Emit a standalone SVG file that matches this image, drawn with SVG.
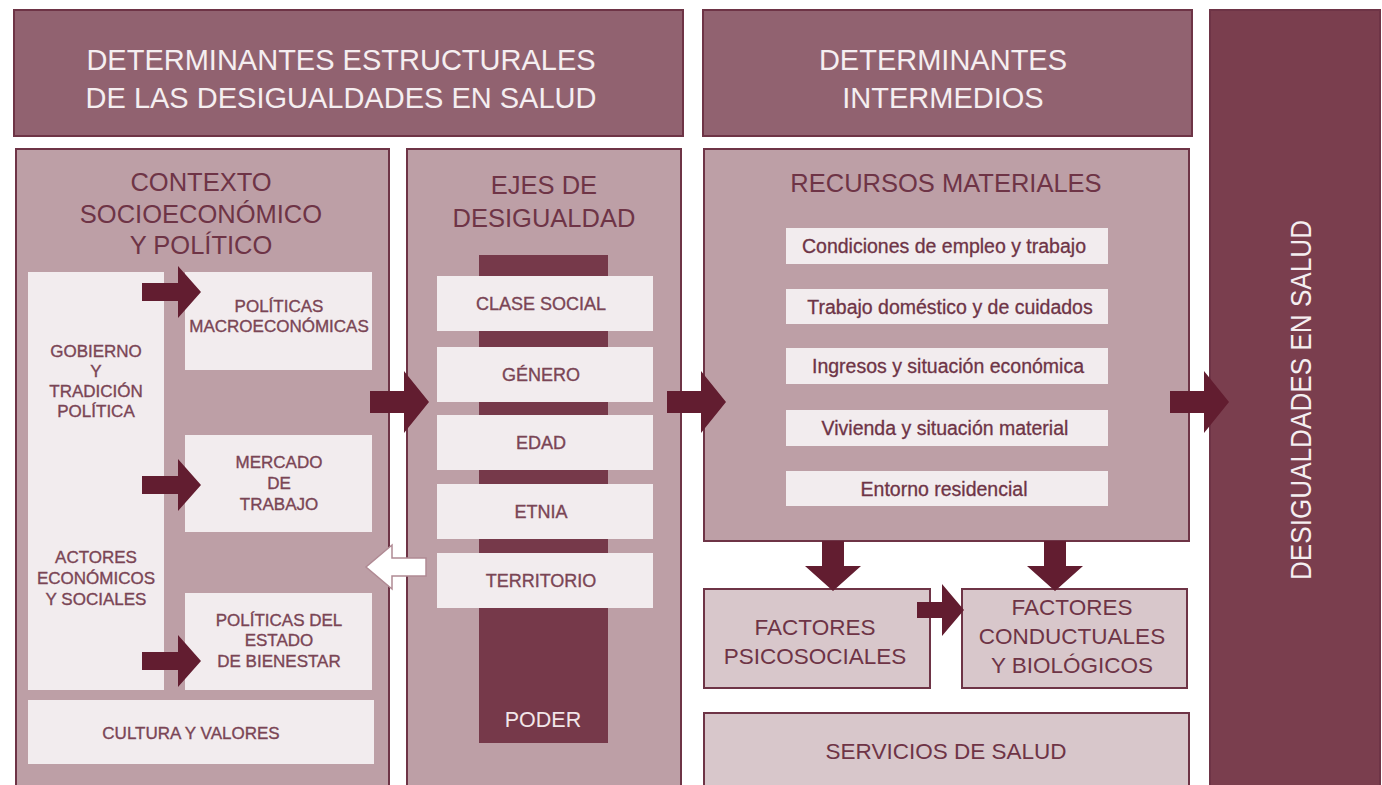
<svg xmlns="http://www.w3.org/2000/svg" width="1382" height="785" viewBox="0 0 1382 785">
<defs>
<style>
.hdr{fill:#916270;stroke:#6e3446;stroke-width:2}
.pnl{fill:#bd9fa6;stroke:#6e3446;stroke-width:2}
.lt{fill:#f2ecee}
.fac{fill:#d8c7cb;stroke:#6e3446;stroke-width:2}
.bar{fill:#76394a}
.arr{fill:#621d30}
text{font-family:"Liberation Sans",Arial,sans-serif;text-anchor:middle}
.ht{fill:#f5eef0;font-size:29px}
.pt{fill:#6e3446;font-size:25.5px}
.ft{fill:#6e3446;font-size:22.5px}
.st{fill:#7a4555;font-size:17px;stroke:#7a4555;stroke-width:0.35}
.et{fill:#7a4555;font-size:18px;stroke:#7a4555;stroke-width:0.35}
.rt{fill:#6e3446;font-size:19.5px;stroke:#6e3446;stroke-width:0.3}
</style>
</defs>
<rect width="1382" height="785" fill="#ffffff"/>
<g id="hdr-estructurales"><rect class="hdr" x="14" y="10" width="669" height="126"/>
<text class="ht" x="341" y="70">DETERMINANTES ESTRUCTURALES</text>
<text class="ht" x="341" y="108">DE LAS DESIGUALDADES EN SALUD</text></g>
<g id="hdr-intermedios"><rect class="hdr" x="703" y="10" width="489" height="126"/>
<text class="ht" x="943" y="70">DETERMINANTES</text>
<text class="ht" x="943" y="108">INTERMEDIOS</text></g>
<g id="desigualdades"><rect x="1210" y="10" width="170" height="780" fill="#7a3e4e" stroke="#6e3446" stroke-width="2"/>
<text class="ht" font-size="28" transform="translate(1311,400) rotate(-90)" textLength="360" lengthAdjust="spacingAndGlyphs">DESIGUALDADES EN SALUD</text></g>
<g id="contexto"><rect class="pnl" x="16" y="149" width="373" height="640"/>
<text class="pt" x="201" y="191">CONTEXTO</text>
<text class="pt" x="201" y="223">SOCIOECONÓMICO</text>
<text class="pt" x="201" y="254">Y POLÍTICO</text></g>
<g id="gobierno"><rect class="lt" x="28" y="272" width="136" height="418"/>
<text class="st" x="96" y="357">GOBIERNO</text>
<text class="st" x="96" y="377">Y</text>
<text class="st" x="96" y="397">TRADICIÓN</text>
<text class="st" x="96" y="417">POLÍTICA</text>
<text class="st" x="96" y="563">ACTORES</text>
<text class="st" x="96" y="584">ECONÓMICOS</text>
<text class="st" x="96" y="605">Y SOCIALES</text></g>
<g id="macro"><rect class="lt" x="185" y="272" width="187" height="98"/>
<text class="st" x="279" y="312">POLÍTICAS</text>
<text class="st" x="279" y="332">MACROECONÓMICAS</text></g>
<g id="mercado"><rect class="lt" x="185" y="435" width="187" height="97"/>
<text class="st" x="279" y="468">MERCADO</text>
<text class="st" x="279" y="489">DE</text>
<text class="st" x="279" y="510">TRABAJO</text></g>
<g id="bienestar"><rect class="lt" x="185" y="593" width="187" height="97"/>
<text class="st" x="279" y="626">POLÍTICAS DEL</text>
<text class="st" x="279" y="646">ESTADO</text>
<text class="st" x="279" y="667">DE BIENESTAR</text></g>
<g id="cultura"><rect class="lt" x="28" y="700" width="346" height="64"/>
<text class="st" x="191" y="739" font-size="16.5">CULTURA Y VALORES</text></g>
<g id="ejes"><rect class="pnl" x="407" y="149" width="274" height="640"/>
<text class="pt" x="544" y="194">EJES DE</text>
<text class="pt" x="544" y="227">DESIGUALDAD</text>
<rect class="bar" x="479" y="255" width="129" height="488"/>
<text x="543" y="727" fill="#f2e6e9" font-size="21.5">PODER</text></g>
<g id="clase"><rect class="lt" x="437" y="276" width="216" height="55"/><text class="et" x="541" y="310">CLASE SOCIAL</text></g>
<g id="genero"><rect class="lt" x="437" y="347" width="216" height="55"/><text class="et" x="541" y="381">GÉNERO</text></g>
<g id="edad"><rect class="lt" x="437" y="415" width="216" height="55"/><text class="et" x="541" y="449">EDAD</text></g>
<g id="etnia"><rect class="lt" x="437" y="484" width="216" height="55"/><text class="et" x="541" y="518">ETNIA</text></g>
<g id="territorio"><rect class="lt" x="437" y="553" width="216" height="55"/><text class="et" x="541" y="587">TERRITORIO</text></g>
<g id="recursos"><rect class="pnl" x="704" y="149" width="485" height="392"/>
<text class="pt" x="946" y="192">RECURSOS MATERIALES</text>
<rect class="lt" x="786" y="228" width="322" height="36"/><text class="rt" x="944" y="253">Condiciones de empleo y trabajo</text>
<rect class="lt" x="786" y="289" width="322" height="35"/><text class="rt" x="950" y="314">Trabajo doméstico y de cuidados</text>
<rect class="lt" x="786" y="348" width="322" height="36"/><text class="rt" x="948" y="373">Ingresos y situación económica</text>
<rect class="lt" x="786" y="410" width="322" height="36"/><text class="rt" x="945" y="435">Vivienda y situación material</text>
<rect class="lt" x="786" y="471" width="322" height="35"/><text class="rt" x="944" y="496">Entorno residencial</text></g>
<g id="psicosociales"><rect class="fac" x="704" y="589" width="226" height="99"/>
<text class="ft" x="815" y="635">FACTORES</text>
<text class="ft" x="815" y="664">PSICOSOCIALES</text></g>
<g id="conductuales"><rect class="fac" x="962" y="589" width="225" height="99"/>
<text class="ft" x="1072" y="615">FACTORES</text>
<text class="ft" x="1072" y="644">CONDUCTUALES</text>
<text class="ft" x="1072" y="673">Y BIOLÓGICOS</text></g>
<g id="servicios"><rect class="fac" x="704" y="713" width="485" height="80"/>
<text class="ft" x="946" y="759">SERVICIOS DE SALUD</text></g>
<g id="connectors">
<path class="arr" d="M142,283 h36 v-17 l23,26 l-23,26 v-17 h-36 z"/>
<path class="arr" d="M142,476 h36 v-17 l23,26 l-23,26 v-17 h-36 z"/>
<path class="arr" d="M142,652 h36 v-17 l23,26 l-23,26 v-17 h-36 z"/>
<path class="arr" d="M370,391 h34 v-20 l25,31 l-25,31 v-20 h-34 z"/>
<path class="arr" d="M667,391 h34 v-20 l25,31 l-25,31 v-20 h-34 z"/>
<path class="arr" d="M1170,391 h34 v-20 l25,31 l-25,31 v-20 h-34 z"/>
<path class="arr" d="M917,602 h25 v-18 l22,26 l-22,26 v-18 h-25 z"/>
<path class="arr" d="M822,541 h22 v25 h17 l-28,25 l-28,-25 h17 z"/>
<path class="arr" d="M1044,541 h22 v25 h17 l-28,25 l-28,-25 h17 z"/>
<path d="M426,558 h-34 v-13 l-26,22 l26,22 v-13 h34 z" fill="#ffffff" stroke="#b08a94" stroke-width="1.5"/>
</g>
</svg>
